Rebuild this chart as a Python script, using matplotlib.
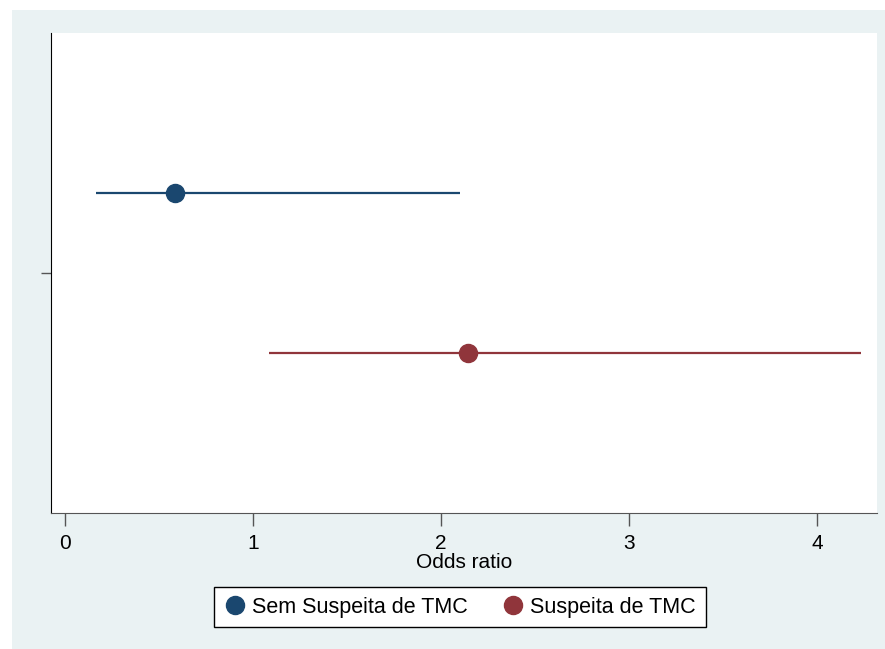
import matplotlib.pyplot as plt
from matplotlib.patches import Rectangle

plt.rcParams['font.family'] = ['Liberation Sans', 'DejaVu Sans']

# --- data: odds ratios with confidence intervals
groups = ['Sem Suspeita de TMC', 'Suspeita de TMC']
odds = [0.585, 2.144]
ci_low = [0.165, 1.085]
ci_high = [2.10, 4.234]
offsets = [-0.2, 0.2]
colors = ['#1a476f', '#90353b']
xticks = [0, 1, 2, 3, 4]

fig = plt.figure(figsize=(8.85, 6.49), dpi=100)
fig.patch.set_facecolor('white')
# Stata-like outer region
fig.patches.append(Rectangle((12 / 885, 0), 1 - 12 / 885, 1 - 10 / 649,
                             transform=fig.transFigure, facecolor='#eaf2f3',
                             edgecolor='none', zorder=-1))

ax = fig.add_axes([51 / 885, 1 - 513 / 649, (877 - 51) / 885, (513 - 33) / 649])
ax.set_facecolor('white')

for i, g in enumerate(groups):
    y = 1 + offsets[i]
    ax.plot([ci_low[i], ci_high[i]], [y, y], color=colors[i], linewidth=1.6,
            solid_capstyle='butt', zorder=2)
    ax.plot(odds[i], y, 'o', color=colors[i], markersize=13, zorder=3, label=g)

ax.set_xlim(-0.0745, 4.319)
ax.set_ylim(1.6, 0.4)
ax.set_xticks(xticks)
ax.set_xticklabels([str(t) for t in xticks])
ax.set_yticks([1])
ax.set_yticklabels([''])

ax.spines['top'].set_visible(False)
ax.spines['right'].set_visible(False)
ax.spines['left'].set_color('black')
ax.spines['bottom'].set_color('#555555')
ax.tick_params(axis='x', length=9, width=1, color='#555555', labelsize=15, pad=6)
ax.tick_params(axis='y', length=7, width=1, color='#555555')
ax.set_xlabel('Odds ratio', fontsize=15, labelpad=0)

fig.legend(loc='center', bbox_to_anchor=(460 / 885, 1 - 607 / 649), ncol=2,
           fontsize=15.5, frameon=True, fancybox=False, edgecolor='black',
           facecolor='white', framealpha=1, handletextpad=0.3,
           columnspacing=1.6, borderpad=0.45, handlelength=1.0,
           borderaxespad=0)

fig.savefig('out.png', dpi=100)
